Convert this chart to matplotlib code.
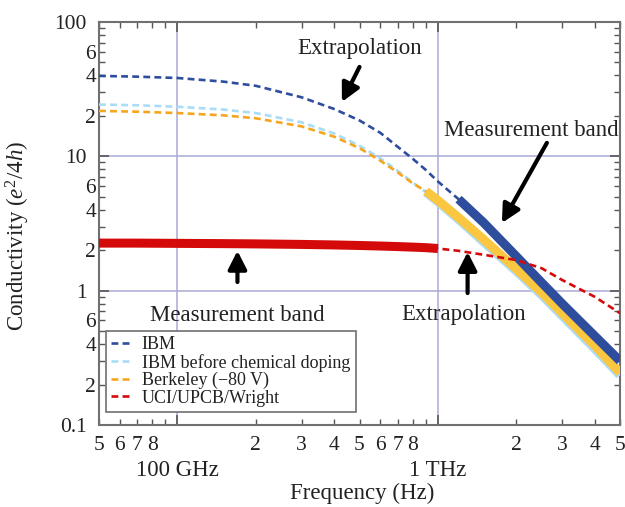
import matplotlib
matplotlib.use("Agg")
import matplotlib.pyplot as plt
import numpy as np
from matplotlib.ticker import FixedLocator, FixedFormatter

plt.rcParams['font.family'] = ['Liberation Serif', 'DejaVu Serif']
plt.rcParams['mathtext.fontset'] = 'custom'
plt.rcParams['mathtext.rm'] = 'Liberation Serif'
plt.rcParams['mathtext.it'] = 'Liberation Serif:italic'

# data (frequency in Hz, conductivity in e^2/4h)
freq = np.array([5e10, 7e10, 1e11, 1.5e11, 2e11, 3e11, 4e11, 5e11, 6e11, 7e11,
                 8e11, 9e11, 1e12, 1.2e12, 1.5e12, 2e12, 2.5e12, 3e12, 4e12, 5e12])
ibm = np.array([39.7, 39.2, 38.3, 36.0, 33.5, 27.5, 22.5, 18.5, 15.0, 11.8,
                9.6, 7.9, 6.5, 4.8, 3.2, 1.8, 1.15, 0.8, 0.46, 0.30])
ibm_undoped = np.array([24.3, 24.0, 23.4, 22.3, 21.0, 17.9, 14.8, 12.0, 9.7, 7.8,
                        6.4, 5.4, 4.6, 3.4, 2.3, 1.4, 0.93, 0.65, 0.37, 0.235])
berkeley = np.array([21.8, 21.5, 21.0, 20.2, 19.2, 16.7, 14.0, 11.5, 9.3, 7.6,
                     6.3, 5.5, 4.7, 3.5, 2.4, 1.45, 0.97, 0.68, 0.39, 0.245])
uci = np.array([2.26, 2.26, 2.25, 2.24, 2.23, 2.21, 2.19, 2.17, 2.15, 2.13,
                2.11, 2.09, 2.06, 1.98, 1.85, 1.69, 1.47, 1.2, 0.9, 0.68])

# measurement bands (Hz)
band_ibm = (1.2e12, 5e12)
band_berkeley = (9e11, 5e12)
band_uci = (5e10, 1e12)

c_ibm = '#2e4d9c'
c_undoped = '#a9dcf7'
c_berk = '#f5a51e'
c_berk_band = '#fbc640'
c_uci = '#d40a0a'

fig = plt.figure(figsize=(6.25, 5.07), dpi=100)
ax = fig.add_axes([0.1584, 0.1617, 0.8336, 0.7949])

dash = (2.6, 1.6)
ax.plot(freq, ibm, color=c_ibm, lw=1.9, dashes=dash, label='IBM', zorder=3)
ax.plot(freq, ibm_undoped, color=c_undoped, lw=1.9, dashes=dash,
        label='IBM before chemical doping', zorder=3)
ax.plot(freq, berkeley, color=c_berk, lw=1.9, dashes=dash,
        label='Berkeley (\u221280 V)', zorder=3)
ax.plot(freq, uci, color=c_uci, lw=1.9, dashes=dash, label='UCI/UPCB/Wright', zorder=6)

# thick measurement bands
m = (freq >= band_berkeley[0]) & (freq <= band_berkeley[1])
ax.plot(freq[m], ibm_undoped[m], color=c_undoped, lw=6.5, solid_capstyle='butt', zorder=4)
ax.plot(freq[m], berkeley[m], color=c_berk_band, lw=6.5, solid_capstyle='butt', zorder=4)
m = (freq >= band_ibm[0]) & (freq <= band_ibm[1])
ax.plot(freq[m], ibm[m], color=c_ibm, lw=6.5, solid_capstyle='butt', zorder=5)
m = (freq >= band_uci[0]) & (freq <= band_uci[1])
ax.plot(freq[m], uci[m], color=c_uci, lw=6.5, solid_capstyle='butt', zorder=7)

ax.set_xscale('log')
ax.set_yscale('log')
ax.set_xlim(5e10, 5e12)
ax.set_ylim(0.1, 100)

# ticks
xmaj = [1e11, 1e12]
xmin = [5e10, 6e10, 7e10, 8e10, 9e10] + [k * 1e11 for k in range(2, 10)] + [k * 1e12 for k in range(2, 6)]
xmin_lab = ['5', '6', '7', '8', ''] + ['2', '3', '4', '5', '6', '7', '8', ''] + ['2', '3', '4', '5']
ax.xaxis.set_major_locator(FixedLocator(xmaj))
ax.xaxis.set_major_formatter(FixedFormatter(['', '']))
ax.xaxis.set_minor_locator(FixedLocator(xmin))
ax.xaxis.set_minor_formatter(FixedFormatter(xmin_lab))

ymaj = [0.1, 1, 10, 100]
ymin, ymin_lab = [], []
for dec in [0.1, 1, 10]:
    for k in range(2, 10):
        ymin.append(k * dec)
        ymin_lab.append(str(k) if k in (2, 4, 6) else '')
ax.yaxis.set_major_locator(FixedLocator(ymaj))
ax.yaxis.set_major_formatter(FixedFormatter(['0.1', '1', '10', '100']))
ax.yaxis.set_minor_locator(FixedLocator(ymin))
ax.yaxis.set_minor_formatter(FixedFormatter(ymin_lab))

ax.tick_params(which='both', direction='in', top=True, right=True, color='#555555',
               labelsize=15.5, labelcolor='#222222')
ax.tick_params(which='major', length=7, width=1.2)
ax.tick_params(which='minor', length=4, width=1.0)
ax.tick_params(axis='y', which='major', pad=9)
ax.tick_params(axis='y', which='minor', pad=2)
ax.tick_params(axis='x', which='both', pad=8)

for s in ax.spines.values():
    s.set_color('#707070')
    s.set_linewidth(1.5)

ax.grid(True, which='major', color='#a9a9d6', lw=1.1, zorder=1)
ax.set_axisbelow(True)

ax.text(1e11, -0.087, '100 GHz', transform=ax.get_xaxis_transform(),
        ha='center', va='top', fontsize=16.5, color='#222222')
ax.text(1e12, -0.087, '1 THz', transform=ax.get_xaxis_transform(),
        ha='center', va='top', fontsize=16.5, color='#222222')

ax.set_xlabel('Frequency (Hz)', fontsize=16.5, color='#222222')
ax.xaxis.set_label_coords(0.505, -0.143)
ax.set_ylabel(r'Conductivity ($e^2$/4$h$)', fontsize=16.5, color='#222222')
ax.yaxis.set_label_coords(-0.128, 0.47)

arrow = dict(arrowstyle='-|>,head_length=0.55,head_width=0.28', color='k', lw=3,
             mutation_scale=20, shrinkA=0, shrinkB=0)
ax.annotate('', xy=(4.28e11, 25.4), xytext=(5.0e11, 46.3), arrowprops=arrow, zorder=8)
ax.text(5.0e11, 63.5, 'Extrapolation', ha='center', va='center', fontsize=16.5, color='#222222')

ax.annotate('', xy=(1.76e12, 3.19), xytext=(2.62e12, 12.6), arrowprops=arrow, zorder=8)
ax.text(2.28e12, 15.7, 'Measurement band', ha='center', va='center', fontsize=16.5,
        color='#222222', zorder=9)

ax.annotate('', xy=(1.7e11, 1.98), xytext=(1.7e11, 1.16), arrowprops=arrow, zorder=8)
ax.text(1.7e11, 0.648, 'Measurement band', ha='center', va='center', fontsize=16.5, color='#222222')

ax.annotate('', xy=(1.3e12, 1.94), xytext=(1.3e12, 0.96), arrowprops=arrow, zorder=8)
ax.text(1.26e12, 0.66, 'Extrapolation', ha='center', va='center', fontsize=16.5, color='#222222')

leg = ax.legend(loc='lower left', bbox_to_anchor=(0.013, 0.032), borderaxespad=0,
                fontsize=13, handlelength=1.2, handletextpad=0.5, labelspacing=0.02,
                fancybox=False, framealpha=1, edgecolor='#707070', borderpad=0.3)
leg.get_frame().set_linewidth(1.2)
for t in leg.get_texts():
    t.set_color('#222222')

fig.savefig('out.png', dpi=100)
